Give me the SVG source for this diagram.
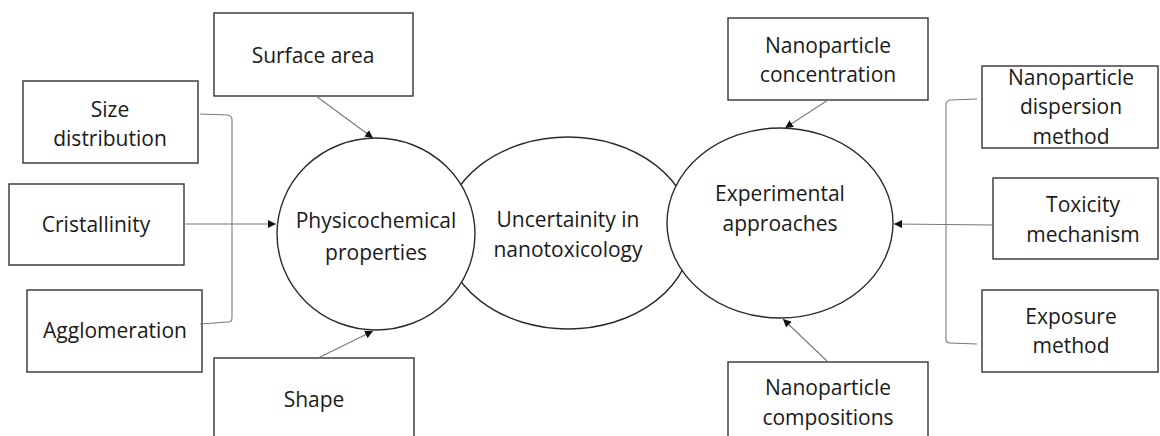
<svg xmlns="http://www.w3.org/2000/svg" width="1160" height="436" viewBox="0 0 1160 436">
  <style>
    .box { fill: #ffffff; stroke: #333333; stroke-width: 1.4; }
    .oval { fill: #ffffff; stroke: #2b2b2b; stroke-width: 1.4; }
    .lbl { font-family: "Open Sans", "Liberation Sans", sans-serif; font-size: 21px; fill: #1a1a1a; text-anchor: middle; }
    .edge { fill: none; stroke: #7a7a7a; stroke-width: 1.1; }
  </style>
  <defs>
    <marker id="tip" viewBox="0 0 10 10" refX="10" refY="5" markerWidth="8" markerHeight="8" markerUnits="userSpaceOnUse" orient="auto">
      <path d="M0,0 L10,5 L0,10 Z" fill="#111111"/>
    </marker>
  </defs>
  <rect width="1160" height="436" fill="#ffffff"/>

  <!-- central ellipse sits beneath the two side ellipses -->
  <g id="uncertainty">
    <ellipse class="oval" cx="568" cy="233" rx="124" ry="96"/>
    <text class="lbl" x="568" y="227">Uncertainity in</text>
    <text class="lbl" x="568" y="257">nanotoxicology</text>
  </g>
  <g id="physicochemical">
    <ellipse class="oval" cx="376" cy="234" rx="99" ry="96"/>
    <text class="lbl" x="376" y="228">Physicochemical</text>
    <text class="lbl" x="376" y="260">properties</text>
  </g>
  <g id="experimental">
    <ellipse class="oval" cx="780" cy="223" rx="113" ry="95"/>
    <text class="lbl" x="780" y="201">Experimental</text>
    <text class="lbl" x="780" y="231">approaches</text>
  </g>

  <g id="surface-area">
    <rect class="box" x="214" y="13" width="199" height="83"/>
    <text class="lbl" x="313" y="63">Surface area</text>
  </g>
  <g id="size-distribution">
    <rect class="box" x="23" y="81" width="175" height="82"/>
    <text class="lbl" x="110" y="117">Size</text>
    <text class="lbl" x="110" y="146">distribution</text>
  </g>
  <g id="cristallinity">
    <rect class="box" x="9" y="184" width="175" height="81"/>
    <text class="lbl" x="96" y="232">Cristallinity</text>
  </g>
  <g id="agglomeration">
    <rect class="box" x="27" y="290" width="175" height="82"/>
    <text class="lbl" x="115" y="338">Agglomeration</text>
  </g>
  <g id="shape">
    <rect class="box" x="214" y="358" width="200" height="90"/>
    <text class="lbl" x="314" y="407">Shape</text>
  </g>

  <g id="np-concentration">
    <rect class="box" x="728" y="18" width="200" height="82"/>
    <text class="lbl" x="828" y="53">Nanoparticle</text>
    <text class="lbl" x="828" y="82">concentration</text>
  </g>
  <g id="np-dispersion">
    <rect class="box" x="982" y="66" width="176" height="82"/>
    <text class="lbl" x="1071" y="85">Nanoparticle</text>
    <text class="lbl" x="1071" y="114">dispersion</text>
    <text class="lbl" x="1071" y="144">method</text>
  </g>
  <g id="toxicity-mechanism">
    <rect class="box" x="993" y="178" width="165" height="81"/>
    <text class="lbl" x="1083" y="212">Toxicity</text>
    <text class="lbl" x="1083" y="242">mechanism</text>
  </g>
  <g id="exposure-method">
    <rect class="box" x="982" y="290" width="176" height="82"/>
    <text class="lbl" x="1071" y="324">Exposure</text>
    <text class="lbl" x="1071" y="353">method</text>
  </g>
  <g id="np-compositions">
    <rect class="box" x="728" y="362" width="200" height="86"/>
    <text class="lbl" x="828" y="395">Nanoparticle</text>
    <text class="lbl" x="828" y="425">compositions</text>
  </g>

  <g id="connectors">
    <!-- left bracket grouping size / cristallinity / agglomeration -->
    <path class="edge" d="M200,114 L228,115 Q232,116 232,120 L232,318 Q232,322 228,322 L200,324"/>
    <path class="edge" d="M184,224 L276,224" marker-end="url(#tip)"/>
    <path class="edge" d="M316,96 L373,138" marker-end="url(#tip)"/>
    <path class="edge" d="M318,358 L373,331" marker-end="url(#tip)"/>
    <!-- right bracket grouping dispersion / toxicity / exposure -->
    <path class="edge" d="M977,99 L950,100 Q946,101 946,105 L946,339 Q946,343 950,343 L977,344"/>
    <path class="edge" d="M993,225 L894,224" marker-end="url(#tip)"/>
    <path class="edge" d="M828,100 L785,128" marker-end="url(#tip)"/>
    <path class="edge" d="M828,362 L783,319" marker-end="url(#tip)"/>
  </g>
</svg>
